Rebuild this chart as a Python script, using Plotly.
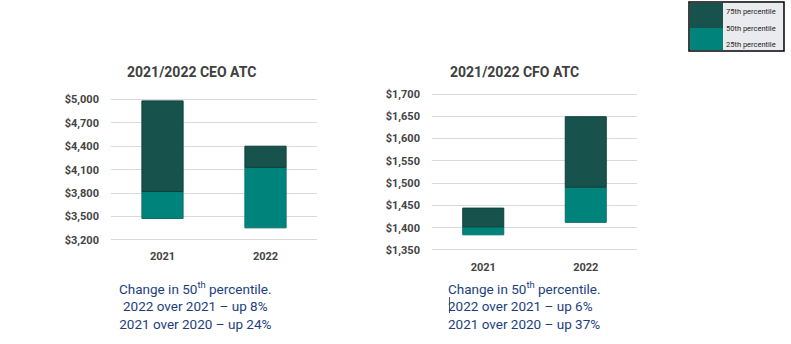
import plotly.graph_objects as go

# Annual total compensation percentiles
years = ["2021", "2022"]
ceo_p25 = [3475, 3355]
ceo_p50 = [3820, 4130]
ceo_p75 = [4980, 4400]
cfo_p25 = [1384, 1412]
cfo_p50 = [1402, 1491]
cfo_p75 = [1444, 1649]

ceo_ticks = [3200, 3500, 3800, 4100, 4400, 4700, 5000]
cfo_ticks = [1350, 1400, 1450, 1500, 1550, 1600, 1650, 1700]

ceo_title = "2021/2022 CEO ATC"
cfo_title = "2021/2022 CFO ATC"
ceo_note = "Change in 50<sup>th</sup> percentile.<br>2022 over 2021 \u2013 up 8%<br>2021 over 2020 \u2013 up 24%"
cfo_note = "Change in 50<sup>th</sup> percentile.<br>2022 over 2021 \u2013 up 6%<br>2021 over 2020 \u2013 up 37%"
legend_labels = ["75th percentile", "50th percentile", "25th percentile"]

DARK = "#17524d"
TEAL = "#00837b"
AXIS_GRAY = "#444444"
NAVY = "#1c3e7e"

fig = go.Figure()


def add_range_bars(p25, p50, p75, xa, ya):
    lower = [b - a for a, b in zip(p25, p50)]
    upper = [c - b for b, c in zip(p50, p75)]
    fig.add_trace(go.Bar(x=years, y=lower, base=p25, width=0.4,
                         marker=dict(color=TEAL, line=dict(color="#0b6e68", width=1)),
                         xaxis=xa, yaxis=ya, showlegend=False, hoverinfo="skip"))
    fig.add_trace(go.Bar(x=years, y=upper, base=p50, width=0.4,
                         marker=dict(color=DARK, line=dict(color="#0d3f3b", width=1)),
                         xaxis=xa, yaxis=ya, showlegend=False, hoverinfo="skip"))


add_range_bars(ceo_p25, ceo_p50, ceo_p75, "x", "y")
add_range_bars(cfo_p25, cfo_p50, cfo_p75, "x2", "y2")

W, H = 791, 344


def px_x(v):
    return v / W


def px_y(v):
    return 1 - v / H


def money(vals):
    return ["${:,}".format(v) for v in vals]


tick_font = dict(family="Roboto", size=11, color=AXIS_GRAY, weight=700)

common_x = dict(type="category", range=[-0.5, 1.5], showgrid=False, zeroline=False,
                showline=False, ticks="", tickfont=tick_font, fixedrange=True)
common_y = dict(showgrid=True, gridcolor="#d9d9d9", gridwidth=1, zeroline=False,
                showline=False, ticks="", tickfont=tick_font, ticklabelstandoff=11,
                fixedrange=True)

fig.update_layout(
    width=W, height=H,
    margin=dict(l=0, r=0, t=0, b=0),
    paper_bgcolor="white", plot_bgcolor="white",
    barmode="overlay",
    xaxis=dict(common_x, domain=[px_x(111), px_x(317)], anchor="y"),
    yaxis=dict(common_y, domain=[px_y(247.8), px_y(91.5)], range=[3100, 5100],
               tickmode="array", tickvals=ceo_ticks, ticktext=money(ceo_ticks), anchor="x"),
    xaxis2=dict(common_x, domain=[px_x(432), px_x(637)], anchor="y2"),
    yaxis2=dict(common_y, domain=[px_y(258.9), px_y(85.1)], range=[1330, 1720],
                tickmode="array", tickvals=cfo_ticks, ticktext=money(cfo_ticks), anchor="x2"),
)

title_font = dict(family="Roboto", size=14, color="#404040", weight=700)
note_font = dict(family="Roboto", size=13.5, color=NAVY)

annotations = [
    dict(text=ceo_title, x=px_x(191.5), y=px_y(72), xref="paper", yref="paper",
         showarrow=False, font=title_font, xanchor="center", yanchor="middle"),
    dict(text=cfo_title, x=px_x(514.5), y=px_y(72), xref="paper", yref="paper",
         showarrow=False, font=title_font, xanchor="center", yanchor="middle"),
    dict(text=ceo_note, x=px_x(195.5), y=px_y(277), xref="paper", yref="paper",
         showarrow=False, font=note_font, xanchor="center", yanchor="top", align="center"),
    dict(text=cfo_note, x=px_x(446), y=px_y(277), xref="paper", yref="paper",
         showarrow=False, font=note_font, xanchor="left", yanchor="top", align="left"),
]

# Legend panel in the top-right corner
shapes = [
    dict(type="rect", xref="paper", yref="paper", x0=px_x(723), x1=px_x(784),
         y0=px_y(50), y1=px_y(3), fillcolor="#e9ebee", line=dict(width=0)),
    dict(type="rect", xref="paper", yref="paper", x0=px_x(690), x1=px_x(723),
         y0=px_y(28), y1=px_y(3), fillcolor=DARK, line=dict(width=0)),
    dict(type="rect", xref="paper", yref="paper", x0=px_x(690), x1=px_x(723),
         y0=px_y(50), y1=px_y(28), fillcolor=TEAL, line=dict(width=0)),
    dict(type="rect", xref="paper", yref="paper", x0=px_x(689), x1=px_x(784),
         y0=px_y(51), y1=px_y(2), fillcolor="rgba(0,0,0,0)", line=dict(color="black", width=1.5)),
    # text caret in the note
    dict(type="line", xref="paper", yref="paper", x0=px_x(449.5), x1=px_x(449.5),
         y0=px_y(313), y1=px_y(297), line=dict(color="#555555", width=1)),
]

legend_font = dict(family="Roboto", size=7.5, color="#222222")
for label, ypx in zip(legend_labels, [12, 28, 44]):
    annotations.append(dict(text=label, x=px_x(724), y=px_y(ypx), xref="paper", yref="paper",
                            showarrow=False, font=legend_font, xanchor="left", yanchor="middle"))

fig.update_layout(annotations=annotations, shapes=shapes)

fig.write_html("out.html")
